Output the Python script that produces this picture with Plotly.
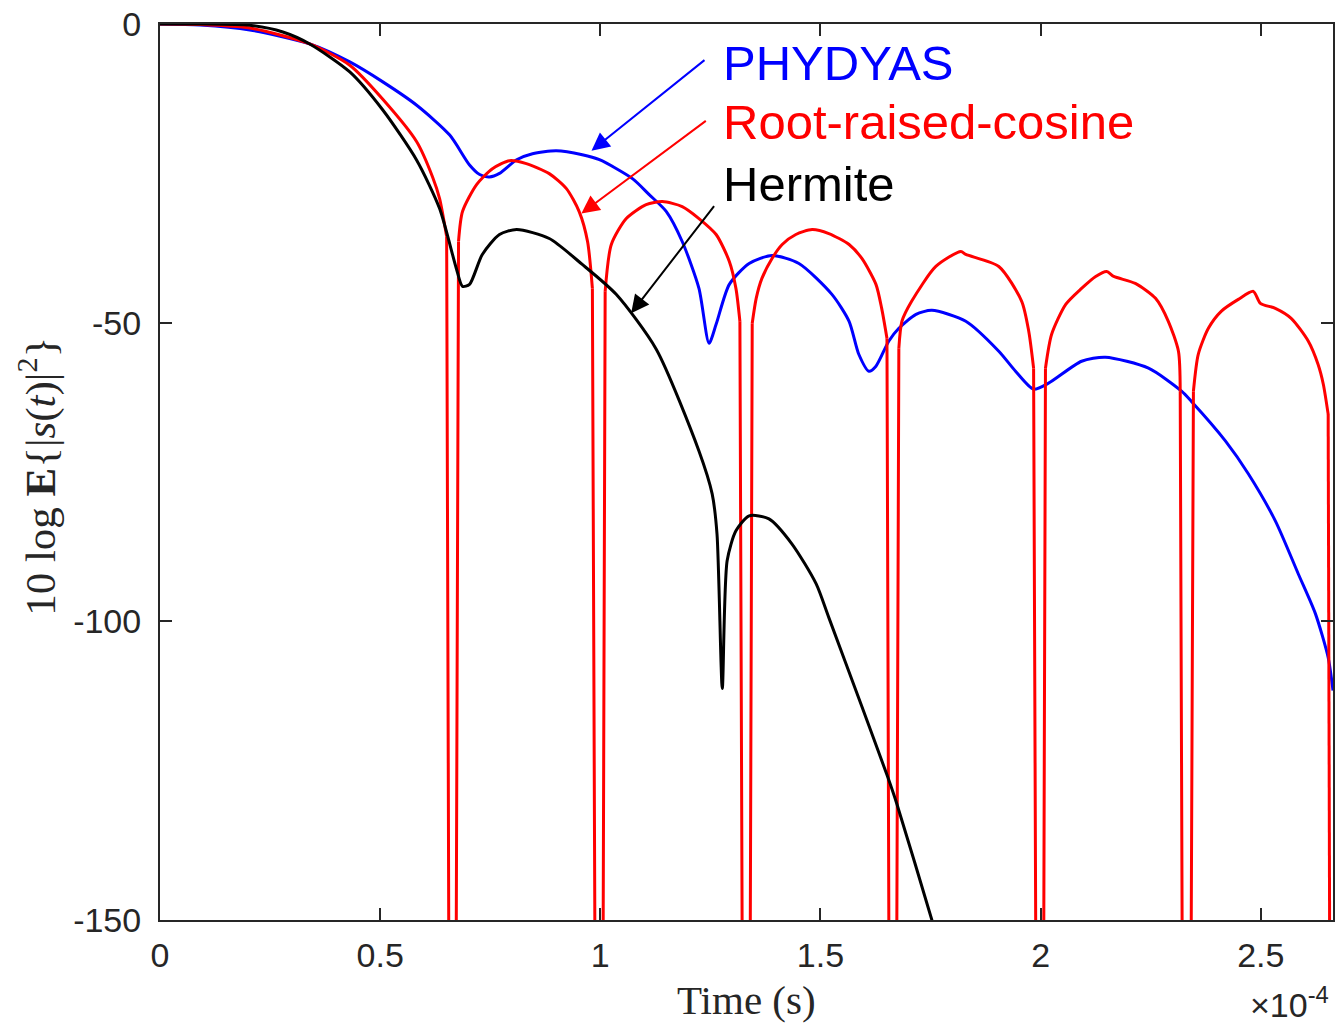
import plotly.graph_objects as go
import numpy as np

# Time in units of 1e-4 s, power in dB
t_phydyas = [0, 0.091, 0.204, 0.340, 0.431, 0.506, 0.583, 0.658, 0.703, 0.726, 0.748,
             0.771, 0.810, 0.846, 0.900, 0.959, 0.998, 1.073, 1.111, 1.150, 1.186, 1.224,
             1.247, 1.263, 1.293, 1.338, 1.390, 1.451, 1.526, 1.565, 1.587, 1.610, 1.626,
             1.655, 1.678, 1.717, 1.753, 1.830, 1.905, 1.943, 1.984, 2.018, 2.093, 2.147,
             2.245, 2.320, 2.342, 2.420, 2.472, 2.533, 2.585, 2.624, 2.653, 2.664]
p_phydyas = [0, -0.17, -1.0, -3.34, -6.35, -9.69, -13.6, -18.6, -23.6, -25.2, -25.6,
             -25.0, -22.72, -21.71, -21.21, -21.88, -22.72, -25.89, -28.56, -31.40, -36.41, -44.26,
             -53.45, -50.28, -43.59, -40.09, -38.75, -40.09, -45.26, -49.77, -55.29, -58.13, -57.29,
             -53.11, -50.94, -48.60, -47.94, -49.77, -54.79, -58.13, -61.13, -60.13, -56.46, -55.79,
             -57.62, -61.47, -63.14, -69.82, -75.33, -83.18, -92.03, -98.71, -106.06, -111.6]

t_rrc = [0, 0.091, 0.204, 0.340, 0.431, 0.506, 0.583, 0.619, 0.635, 0.651, 0.664,
         0.678, 0.687, 0.719, 0.755, 0.794, 0.832, 0.884, 0.923, 0.952, 0.971, 0.982, 0.998,
         1.011, 1.025, 1.059, 1.104, 1.141, 1.186, 1.224, 1.263, 1.293, 1.308, 1.317, 1.332,
         1.345, 1.354, 1.367, 1.390, 1.413, 1.444, 1.481, 1.519, 1.565, 1.594, 1.626, 1.639, 1.651, 1.664,
         1.678, 1.685, 1.707, 1.762, 1.819, 1.830, 1.905, 1.957, 1.973, 1.984, 1.999,
         2.011, 2.025, 2.057, 2.093, 2.125, 2.150, 2.166, 2.215, 2.261, 2.290, 2.313, 2.317, 2.331,
         2.347, 2.358, 2.381, 2.410, 2.449, 2.483, 2.499, 2.533, 2.569, 2.608, 2.630, 2.642, 2.653, 2.664]
p_rrc = [0, -0.08, -0.67, -3.34, -6.9, -12.6, -19.71, -25.6, -29.23, -35.58, -350,
         -36.41, -31.40, -26.89, -24.22, -22.88, -23.38, -25.05, -27.56, -31.40, -36.41, -44.26, -350,
         -44.76, -36.91, -32.57, -30.23, -29.73, -30.57, -32.57, -35.24, -39.75, -44.26, -49.77, -350,
         -50.11, -45.93, -42.59, -39.25, -36.91, -35.24, -34.41, -35.08, -36.91, -39.25, -43.59, -47.60, -52.61, -350,
         -54.28, -49.77, -46.43, -40.59, -38.08, -38.58, -40.59, -46.43, -51.44, -57.62, -350,
         -57.62, -51.95, -46.94, -44.26, -42.26, -41.42, -42.26, -43.43, -45.93, -49.77, -54.79, -61.47, -350,
         -61.47, -55.29, -50.94, -48.10, -46.10, -44.76, -46.77, -47.60, -49.27, -53.11, -56.96, -60.30, -65.31, -350]

t_hermite = [0, 0.091, 0.204, 0.279, 0.340, 0.431, 0.506, 0.583, 0.635, 0.673, 0.687, 0.703,
             0.732, 0.771, 0.810, 0.884, 0.959, 1.036, 1.127, 1.224, 1.254, 1.265, 1.277, 1.288,
             1.308, 1.338, 1.383, 1.435, 1.490, 1.519, 1.594, 1.653, 1.673, 1.753, 1.780]
p_hermite = [0, 0, -0.22, -1.34, -3.34, -8.02, -14.4, -22.8, -30.90, -40.92, -43.93, -43.59,
             -38.58, -35.24, -34.41, -35.91, -40.25, -45.26, -54.45, -71.49, -78.67, -85.35, -111.24, -89.86,
             -84.85, -82.34, -82.85, -87.02, -93.70, -99.38, -114.25, -126.11, -130.45, -150.0, -157.0]

x_tickvals = [0, 0.5, 1, 1.5, 2, 2.5]
x_ticktext = ["0", "0.5", "1", "1.5", "2", "2.5"]
y_tickvals = [0, -50, -100, -150]
y_ticktext = ["0", "-50", "-100", "-150"]

SCALE = 1e-4
AX = "#262626"
TICKFONT = dict(family="Liberation Sans, Arial, sans-serif", size=34, color=AX)
LW = 3
RED = "#FF0000"

# split the root-raised-cosine series into smooth lobes and the steep null transitions
tr = np.array(t_rrc) * SCALE
pr = np.array(p_rrc, dtype=float)
null_idx = [i for i, v in enumerate(pr) if v < -150]
lobe_x, lobe_y, dip_x, dip_y = [], [], [], []
start = 0
for ni in null_idx:
    lobe_x += list(tr[start:ni]) + [None]
    lobe_y += list(pr[start:ni]) + [None]
    seg = range(max(ni - 1, 0), min(ni + 2, len(tr)))
    dip_x += [tr[k] for k in seg] + [None]
    dip_y += [pr[k] for k in seg] + [None]
    start = ni + 1
if start < len(tr):
    lobe_x += list(tr[start:])
    lobe_y += list(pr[start:])

fig = go.Figure()
fig.add_trace(go.Scatter(x=np.array(t_phydyas) * SCALE, y=p_phydyas, mode="lines",
                         line=dict(color="#0000FF", width=LW, shape="spline", smoothing=0.7),
                         name="PHYDYAS"))
fig.add_trace(go.Scatter(x=lobe_x, y=lobe_y, mode="lines", connectgaps=False,
                         line=dict(color=RED, width=LW, shape="spline", smoothing=0.7),
                         name="Root-raised-cosine"))
fig.add_trace(go.Scatter(x=dip_x, y=dip_y, mode="lines", connectgaps=False,
                         line=dict(color=RED, width=LW, shape="linear"),
                         name="Root-raised-cosine", showlegend=False))
fig.add_trace(go.Scatter(x=np.array(t_hermite) * SCALE, y=p_hermite, mode="lines",
                         line=dict(color="#000000", width=LW, shape="spline", smoothing=0.7),
                         name="Hermite"))

axis_common = dict(showline=True, linecolor=AX, linewidth=2, mirror="ticks", ticks="inside",
                   ticklen=12, tickwidth=2, tickcolor=AX, tickfont=TICKFONT,
                   showgrid=False, zeroline=False)

fig.update_layout(
    width=1340, height=1025,
    margin=dict(l=160, r=5, t=22, b=105),
    paper_bgcolor="white", plot_bgcolor="white",
    showlegend=False,
    xaxis=dict(range=[0, 2.664e-4], tickvals=[v * SCALE for v in x_tickvals], ticktext=x_ticktext,
               ticklabelstandoff=4, **axis_common),
    yaxis=dict(range=[-150, 0], tickvals=y_tickvals, ticktext=y_ticktext,
               ticklabelstandoff=10, **axis_common),
)

annotations = []
# arrows
for (hx, hy, tx, ty, col) in [(0.980, -21.21, 1.240, -5.85, "#0000FF"),
                              (0.957, -31.74, 1.243, -16.03, RED),
                              (1.070, -48.44, 1.261, -30.23, "#000000")]:
    annotations.append(dict(x=hx * SCALE, y=hy, ax=tx * SCALE, ay=ty, xref="x", yref="y",
                            axref="x", ayref="y", text="", showarrow=True, arrowhead=2,
                            arrowsize=1.8, arrowwidth=2, arrowcolor=col))
# labels
for (txt, yy, col) in [("PHYDYAS", -6.6, "#0000FF"),
                       ("Root-raised-cosine", -16.37, RED),
                       ("Hermite", -26.72, "#000000")]:
    annotations.append(dict(x=1.275 * SCALE, y=yy, xref="x", yref="y", text=txt, showarrow=False,
                            xanchor="left", yanchor="middle",
                            font=dict(family="Liberation Sans, Arial, sans-serif", size=49, color=col)))
# axis titles
annotations.append(dict(x=0.5, y=-0.089, xref="paper", yref="paper", text="Time (s)", showarrow=False,
                        xanchor="center", yanchor="middle",
                        font=dict(family="Liberation Serif, Times New Roman, serif", size=41, color=AX)))
annotations.append(dict(x=-0.105, y=0.4955, xref="paper", yref="paper",
                        text="10 log <b>E</b>{|<i>s</i>(<i>t</i>)|<sup>2</sup>}", showarrow=False,
                        textangle=-90, xanchor="center", yanchor="middle",
                        font=dict(family="Liberation Serif, Times New Roman, serif", size=43, color=AX)))
annotations.append(dict(x=0.9985, y=-0.092, xref="paper", yref="paper", text="×10<sup>-4</sup>",
                        showarrow=False, xanchor="right", yanchor="middle",
                        font=dict(family="Liberation Sans, Arial, sans-serif", size=34, color=AX)))
fig.update_layout(annotations=annotations)

fig.write_html("out.html")
